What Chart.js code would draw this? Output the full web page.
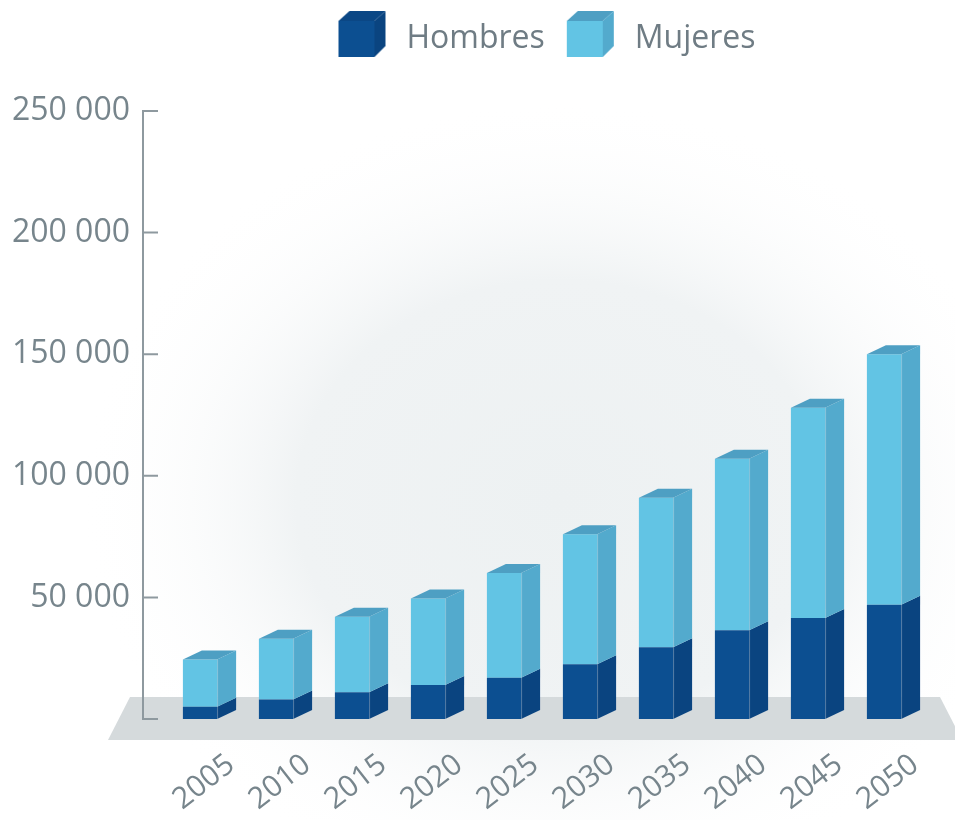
<!DOCTYPE html>
<html>
<head>
<meta charset="utf-8">
<title>Hombres y Mujeres 2005-2050</title>
<script src="https://cdn.jsdelivr.net/npm/chart.js@4.4.1/dist/chart.umd.min.js"></script>
<style>
  html, body { margin: 0; padding: 0; background: #ffffff; }
  #wrap { width: 955px; height: 820px; position: relative; }
</style>
</head>
<body>
<div id="wrap"><canvas id="chart"></canvas></div>
<script>
// Data
const years = ['2005', '2010', '2015', '2020', '2025', '2030', '2035', '2040', '2045', '2050'];
const hombres = [5000, 8000, 11000, 14000, 17000, 22500, 29500, 36500, 41500, 47000];
const mujeres = [19500, 25000, 31000, 35500, 43000, 53500, 61500, 70500, 86500, 103000];
const seriesNames = ['Hombres', 'Mujeres'];
const yTickValues = [0, 50000, 100000, 150000, 200000, 250000];

// Face colours for the extruded bars: front, side, top
const palette = {
  Hombres: { front: '#0c4f91', side: '#0a4480', top: '#0b4785' },
  Mujeres: { front: '#62c4e4', side: '#53aacd', top: '#4e9fc3' }
};
const DEPTH_X = 19;
const DEPTH_Y = 9;
const TEXT_GREY = '#77858c';
const FONT = "'Open Sans', 'DejaVu Sans', sans-serif";

function formatThousands(v) {
  return String(v).replace(/\B(?=(\d{3})+(?!\d))/g, ' ');
}

// Small cube icon used as the legend marker (cube sits 10px in from the left,
// a little above the icon's middle so it lines up with the label text)
function makeCube(c) {
  const cv = document.createElement('canvas');
  cv.width = 62; cv.height = 64;
  const g = cv.getContext('2d');
  g.translate(10, 4);
  g.fillStyle = c.front;
  g.fillRect(0, 10, 36, 36);
  g.fillStyle = c.top;
  g.beginPath();
  g.moveTo(0, 10); g.lineTo(36, 10); g.lineTo(47, 0); g.lineTo(11, 0); g.closePath();
  g.fill();
  g.fillStyle = c.side;
  g.beginPath();
  g.moveTo(36, 10); g.lineTo(47, 0); g.lineTo(47, 35); g.lineTo(36, 46); g.closePath();
  g.fill();
  return cv;
}
const cubes = seriesNames.map(n => makeCube(palette[n]));

// Soft backdrop and grey floor
const backdrop = {
  id: 'backdrop',
  beforeDraw(chart) {
    const { ctx, chartArea, scales } = chart;
    const y0 = scales.y.getPixelForValue(0);
    ctx.save();
    ctx.fillStyle = '#ffffff';
    ctx.fillRect(0, 0, chart.width, chart.height);
    ctx.save();
    ctx.translate(560, 500);
    ctx.scale(1.2, 1);
    const grd = ctx.createRadialGradient(0, 0, 0, 0, 0, 400);
    grd.addColorStop(0, '#edf1f2');
    grd.addColorStop(0.55, '#f0f3f4');
    grd.addColorStop(1, 'rgba(255,255,255,0)');
    ctx.fillStyle = grd;
    ctx.fillRect(-700, -700, 1400, 1400);
    ctx.restore();
    ctx.fillStyle = '#d5dadc';
    ctx.beginPath();
    ctx.moveTo(chartArea.left - 32, y0 - 22);
    ctx.lineTo(chartArea.right + 18, y0 - 22);
    ctx.lineTo(chartArea.right + 40, y0 + 21);
    ctx.lineTo(chartArea.left - 54, y0 + 21);
    ctx.closePath();
    ctx.fill();
    ctx.restore();
  }
};

// Vertical axis line with inward tick marks
const axisLine = {
  id: 'axisLine',
  beforeDatasetsDraw(chart) {
    const { ctx, chartArea, scales } = chart;
    const x = chartArea.left - 19;
    const yTop = scales.y.getPixelForValue(yTickValues[yTickValues.length - 1]);
    const yBot = scales.y.getPixelForValue(0);
    ctx.save();
    ctx.strokeStyle = '#8e999f';
    ctx.lineWidth = 2;
    ctx.beginPath();
    ctx.moveTo(x, yTop);
    ctx.lineTo(x, yBot);
    yTickValues.forEach(v => {
      const y = scales.y.getPixelForValue(v);
      ctx.moveTo(x - 1, y);
      ctx.lineTo(x + 15, y);
    });
    ctx.stroke();
    ctx.restore();
  }
};

// Side and top faces for each bar segment
const extrude = {
  id: 'extrude',
  afterDatasetsDraw(chart) {
    const { ctx } = chart;
    const n = chart.data.datasets.length;
    ctx.save();
    chart.data.datasets.forEach((ds, di) => {
      const meta = chart.getDatasetMeta(di);
      const col = palette[ds.label];
      meta.data.forEach(bar => {
        const p = bar.getProps(['x', 'y', 'base', 'width'], true);
        const left = p.x - p.width / 2;
        const right = p.x + p.width / 2;
        const top = Math.min(p.y, p.base);
        const bottom = Math.max(p.y, p.base);
        ctx.fillStyle = col.side;
        ctx.beginPath();
        ctx.moveTo(right, top);
        ctx.lineTo(right + DEPTH_X, top - DEPTH_Y);
        ctx.lineTo(right + DEPTH_X, bottom - DEPTH_Y);
        ctx.lineTo(right, bottom);
        ctx.closePath();
        ctx.fill();
        if (di === n - 1) {
          ctx.fillStyle = col.top;
          ctx.beginPath();
          ctx.moveTo(left, top);
          ctx.lineTo(right, top);
          ctx.lineTo(right + DEPTH_X, top - DEPTH_Y);
          ctx.lineTo(left + DEPTH_X, top - DEPTH_Y);
          ctx.closePath();
          ctx.fill();
        }
        ctx.strokeStyle = 'rgba(255,255,255,0.25)';
        ctx.lineWidth = 1;
        ctx.beginPath();
        ctx.moveTo(right + 0.5, top);
        ctx.lineTo(right + 0.5, bottom);
        ctx.stroke();
      });
    });
    ctx.restore();
  }
};

// Empty band that separates the legend from the plot
const legendGap = {
  id: 'legendGap',
  afterInit(chart) {
    Chart.layouts.addBox(chart, {
      position: 'top',
      weight: 0,
      fullSize: true,
      options: {},
      width: 0,
      height: 0,
      isHorizontal() { return true; },
      update(maxWidth) { this.width = maxWidth; this.height = 46; },
      draw() {}
    });
  }
};

const ctx = document.getElementById('chart');
new Chart(ctx, {
  type: 'bar',
  data: {
    labels: years,
    datasets: [
      {
        label: seriesNames[0],
        data: hombres,
        backgroundColor: palette.Hombres.front,
        borderWidth: 0,
        barPercentage: 0.45,
        categoryPercentage: 1
      },
      {
        label: seriesNames[1],
        data: mujeres,
        backgroundColor: palette.Mujeres.front,
        borderWidth: 0,
        barPercentage: 0.45,
        categoryPercentage: 1
      }
    ]
  },
  options: {
    responsive: true,
    maintainAspectRatio: false,
    animation: false,
    layout: { padding: { top: 11, left: 0, right: 33, bottom: 0 } },
    plugins: {
      legend: {
        display: true,
        position: 'top',
        align: 'center',
        fullSize: false,
        labels: {
          usePointStyle: true,
          pointStyleWidth: 62,
          padding: 12,
          color: '#6f7c84',
          font: { family: FONT, size: 32 },
          generateLabels(chart) {
            const items = Chart.defaults.plugins.legend.labels.generateLabels(chart);
            items.forEach((it, i) => { it.pointStyle = cubes[i]; });
            return items;
          }
        }
      },
      tooltip: { enabled: false }
    },
    scales: {
      x: {
        stacked: true,
        offset: true,
        grid: { display: false, drawTicks: false },
        border: { display: false },
        ticks: {
          autoSkip: false,
          minRotation: 38,
          maxRotation: 38,
          labelOffset: 31,
          padding: 28,
          color: TEXT_GREY,
          font: { family: FONT, size: 30 }
        },
        afterFit(scale) { scale.height = 101; }
      },
      y: {
        stacked: true,
        min: 0,
        max: 250000,
        grid: { display: false, drawTicks: false },
        border: { display: false },
        afterBuildTicks(scale) {
          scale.ticks = yTickValues.map(v => ({ value: v }));
        },
        ticks: {
          padding: 32,
          color: TEXT_GREY,
          font: { family: FONT, size: 32 },
          callback(v) { return v === 0 ? null : formatThousands(v); }
        },
        afterFit(scale) { scale.width = 162; }
      }
    }
  },
  plugins: [backdrop, axisLine, extrude, legendGap]
});
</script>
</body>
</html>
